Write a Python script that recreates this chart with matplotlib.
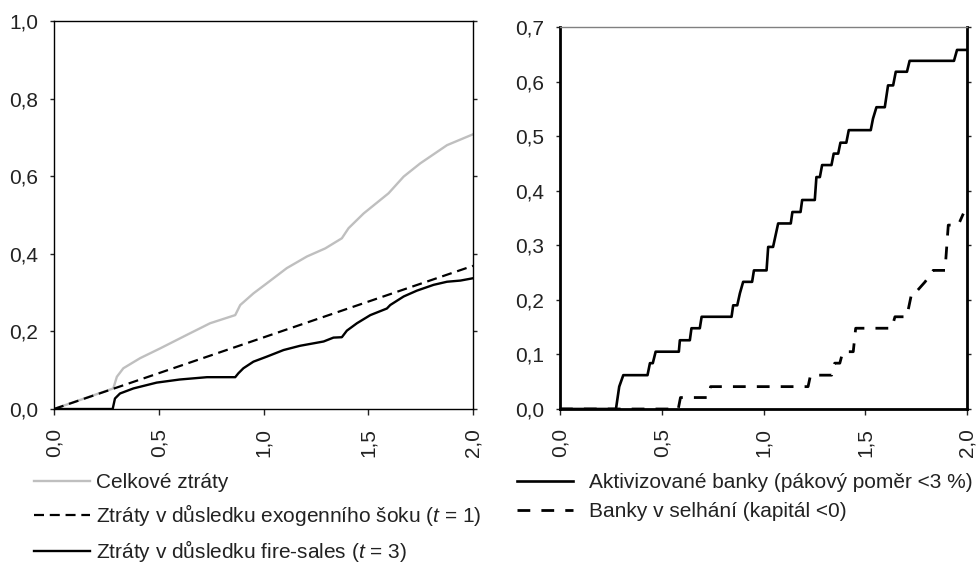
import matplotlib
matplotlib.use("Agg")
import matplotlib.pyplot as plt
from matplotlib.ticker import FixedLocator, FuncFormatter

plt.rcParams['font.family'] = ['Liberation Sans', 'DejaVu Sans']
plt.rcParams['mathtext.fontset'] = 'custom'
plt.rcParams['mathtext.it'] = 'Liberation Sans:italic'
plt.rcParams['mathtext.rm'] = 'Liberation Sans'

# ---------------- data (left panel) ----------------
total_x = [0, 0.283, 0.30, 0.331, 0.411, 0.506, 0.634, 0.745, 0.865, 0.889, 0.952, 1.016,
           1.111, 1.207, 1.295, 1.374, 1.406, 1.478, 1.597, 1.669, 1.748, 1.876, 2.0]
total_y = [0, 0.053, 0.083, 0.105, 0.131, 0.156, 0.191, 0.221, 0.242, 0.268, 0.298, 0.324,
           0.363, 0.393, 0.414, 0.440, 0.466, 0.504, 0.556, 0.599, 0.633, 0.680, 0.708]

exog_x = [0, 2.0]
exog_y = [0, 0.369]

fire_x = [0, 0.28, 0.291, 0.315, 0.379, 0.49, 0.60, 0.73, 0.865, 0.88, 0.904, 0.952, 1.016,
          1.096, 1.175, 1.287, 1.334, 1.374, 1.398, 1.446, 1.51, 1.589, 1.605, 1.669, 1.732,
          1.812, 1.876, 1.94, 2.0]
fire_y = [0, 0, 0.027, 0.040, 0.053, 0.068, 0.076, 0.082, 0.082, 0.092, 0.105, 0.122, 0.135,
          0.152, 0.163, 0.174, 0.184, 0.185, 0.202, 0.221, 0.242, 0.259, 0.268, 0.290, 0.305,
          0.320, 0.328, 0.331, 0.337]

# ---------------- data (right panel) ----------------
activ_x = [0, 0.275, 0.291, 0.311, 0.43, 0.442, 0.456, 0.47, 0.584, 0.589,
           0.638, 0.646, 0.687, 0.696, 0.843, 0.851, 0.871, 0.884, 0.90, 0.944,
           0.953, 1.015, 1.023, 1.047, 1.072, 1.134, 1.142, 1.182, 1.19, 1.252,
           1.26, 1.277, 1.288, 1.334, 1.345, 1.367, 1.378, 1.407, 1.419, 1.527,
           1.538, 1.555, 1.596, 1.612, 1.637, 1.65, 1.705, 1.718, 1.936, 1.951, 2.0]
activ_y = [0, 0, 0.041, 0.062, 0.062, 0.084, 0.084, 0.105, 0.105, 0.126,
           0.126, 0.148, 0.148, 0.169, 0.169, 0.19, 0.19, 0.212, 0.233, 0.233,
           0.254, 0.254, 0.297, 0.297, 0.34, 0.34, 0.361, 0.361, 0.383, 0.383,
           0.425, 0.425, 0.447, 0.447, 0.468, 0.468, 0.488, 0.488, 0.511, 0.511,
           0.532, 0.553, 0.553, 0.593, 0.593, 0.618, 0.618, 0.638, 0.638, 0.658, 0.658]

default_x = [0, 0.581, 0.592, 0.728, 0.74, 1.219, 1.231, 1.335, 1.35, 1.375, 1.39, 1.441,
             1.453, 1.63, 1.646, 1.704, 1.728, 1.744, 1.794, 1.834, 1.892, 1.908, 1.957, 1.982]
default_y = [0, 0, 0.021, 0.021, 0.041, 0.041, 0.062, 0.062, 0.084, 0.084, 0.105, 0.105,
             0.148, 0.148, 0.169, 0.169, 0.212, 0.212, 0.233, 0.254, 0.254, 0.337, 0.337, 0.358]

x_ticks = [0, 0.5, 1.0, 1.5, 2.0]
left_yticks = [0, 0.2, 0.4, 0.6, 0.8, 1.0]
right_yticks = [0, 0.1, 0.2, 0.3, 0.4, 0.5, 0.6, 0.7]

left_labels = ["Celkové ztráty",
               "Ztráty v důsledku exogenního šoku ($\\mathit{t}$ = 1)",
               "Ztráty v důsledku fire-sales ($\\mathit{t}$ = 3)"]
right_labels = ["Aktivizované banky (pákový poměr <3 %)",
                "Banky v selhání (kapitál <0)"]

FS = 15
W, H = 980, 566
fig = plt.figure(figsize=(W / 100, H / 100), dpi=100)

comma = FuncFormatter(lambda v, p: f"{v:.1f}".replace(".", ","))


def style(ax, yticks, ymax, spine_lw, top_color):
    ax.set_xlim(0, 2.0)
    ax.set_ylim(0, ymax)
    ax.xaxis.set_major_locator(FixedLocator(x_ticks))
    ax.yaxis.set_major_locator(FixedLocator(yticks))
    ax.xaxis.set_major_formatter(comma)
    ax.yaxis.set_major_formatter(comma)
    ax.tick_params(axis='y', direction='out', length=3.2, width=1, left=True, right=True,
                   labelright=False, labelsize=FS, pad=8, colors='#222222')
    ax.tick_params(axis='x', direction='out', length=4.5, width=1, labelsize=FS, pad=9,
                   labelrotation=90, colors='#222222')
    for s in ['left', 'right', 'bottom']:
        ax.spines[s].set_linewidth(spine_lw)
        ax.spines[s].set_color('black')
    ax.spines['top'].set_color(top_color)
    ax.spines['top'].set_linewidth(1.0)
    for lab in ax.get_xticklabels():
        lab.set_va('top')


# left axes
axL = fig.add_axes([54 / W, 1 - 409 / H, (473 - 54) / W, (409 - 21) / H])
l1, = axL.plot(total_x, total_y, color='#BFBFBF', lw=1.7, label=left_labels[0])
l2, = axL.plot(exog_x, exog_y, color='black', lw=1.6, dashes=(4.5, 2.6), label=left_labels[1])
l3, = axL.plot(fire_x, fire_y, color='black', lw=1.7, label=left_labels[2])
style(axL, left_yticks, 1.0, 1.0, 'black')

# right axes
axR = fig.add_axes([560 / W, 1 - 409 / H, (967 - 560) / W, (409 - 27) / H])
r1, = axR.plot(activ_x, activ_y, color='black', lw=1.9, label=right_labels[0])
r2, = axR.plot(default_x, default_y, color='black', lw=2.0, dashes=(4.6, 4.0), label=right_labels[1])
style(axR, right_yticks, 0.7, 2.0, '#808080')

# legends
legL = fig.legend(handles=[l1, l2, l3], loc='upper left',
                  bbox_to_anchor=(34 / W, 1 - 473 / H), frameon=False, fontsize=FS,
                  handlelength=2.7, handletextpad=0.3, labelspacing=0.48,
                  borderpad=0, borderaxespad=0)
legR = fig.legend(handles=[r1, r2], loc='upper left',
                  bbox_to_anchor=(517 / W, 1 - 473 / H), frameon=False, fontsize=FS,
                  handlelength=2.7, handletextpad=0.75, labelspacing=0.48,
                  borderpad=0, borderaxespad=0)
for t in legL.get_texts() + legR.get_texts():
    t.set_color('#222222')

fig.savefig('out.png', dpi=100)
